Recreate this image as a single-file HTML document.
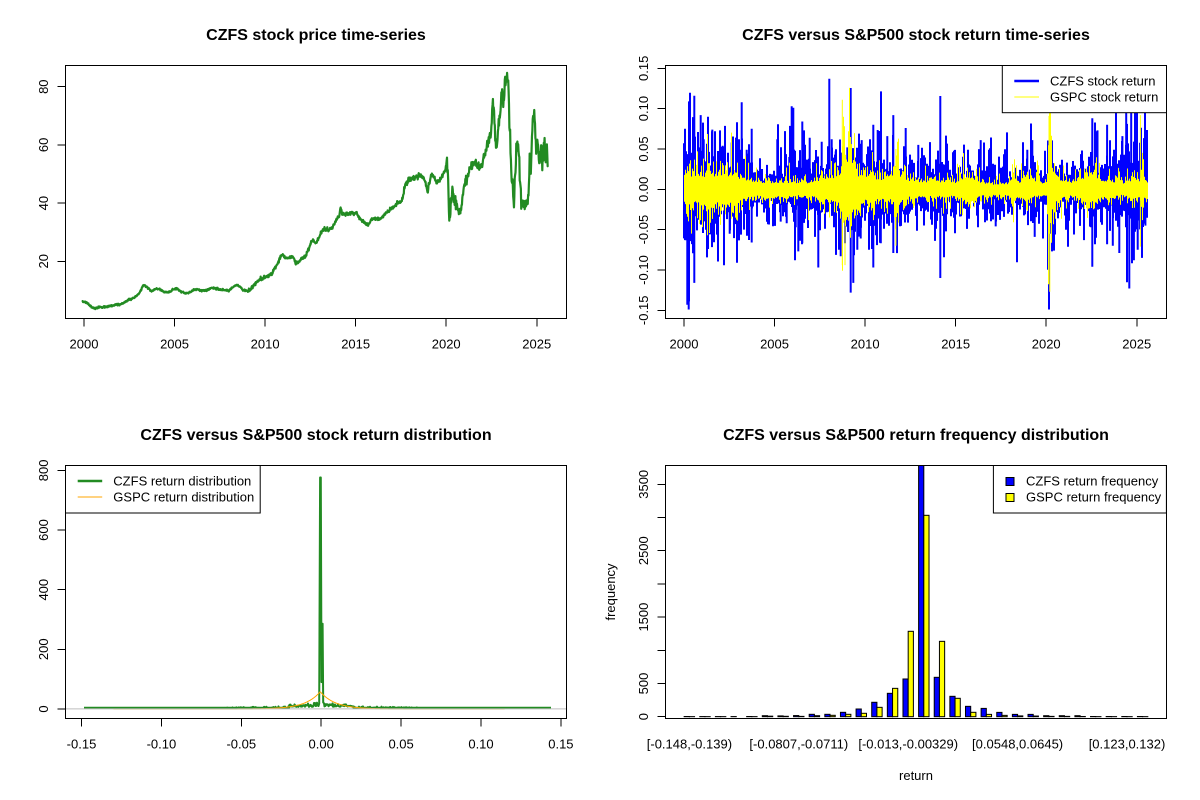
<!DOCTYPE html>
<html><head><meta charset="utf-8"><title>CZFS charts</title>
<style>html,body{margin:0;padding:0;background:#fff;overflow:hidden}svg{display:block}text{font-family:"Liberation Sans",Arial,sans-serif;fill:#000}</style>
</head><body>
<svg id="S" xmlns="http://www.w3.org/2000/svg" width="1200" height="800" viewBox="0 0 1200 800">
<defs>
<clipPath id="c1"><rect x="65.6" y="65.6" width="500.8" height="252.8"/></clipPath>
<clipPath id="c2"><rect x="665.6" y="65.6" width="500.8" height="252.8"/></clipPath>
<clipPath id="c3"><rect x="65.6" y="465.6" width="500.8" height="252.8"/></clipPath>
<clipPath id="c4"><rect x="665.6" y="465.6" width="500.8" height="252.8"/></clipPath>
</defs>
<rect width="1200" height="800" fill="#fff"/>
<g id="g1" clip-path="url(#c1)"></g>
<g id="g2" clip-path="url(#c2)"></g>
<g id="g3" clip-path="url(#c3)"></g>
<line x1="65.6" y1="708.9" x2="566.4" y2="708.9" stroke="#BEBEBE" stroke-width="1"/>
<g id="g4" clip-path="url(#c4)"></g>

<!-- Titles -->
<text x="316" y="40" text-anchor="middle" font-weight="bold" font-size="16">CZFS stock price time-series</text>
<text x="916" y="40" text-anchor="middle" font-weight="bold" font-size="16">CZFS versus S&amp;P500 stock return time-series</text>
<text x="316" y="440" text-anchor="middle" font-weight="bold" font-size="16">CZFS versus S&amp;P500 stock return distribution</text>
<text x="916" y="440" text-anchor="middle" font-weight="bold" font-size="16">CZFS versus S&amp;P500 return frequency distribution</text>

<g fill="none" stroke="#000" stroke-width="1" shape-rendering="crispEdges">
<rect x="65.5" y="65.5" width="501" height="253"/>
<rect x="665.5" y="65.5" width="501" height="253"/>
<rect x="65.5" y="465.5" width="501" height="253"/>
<rect x="665.5" y="465.5" width="501" height="253"/>
<path d="M84 318.5V326.5M174.55 318.5V326.5M265.1 318.5V326.5M355.65 318.5V326.5M446.2 318.5V326.5M536.75 318.5V326.5"/>
<path d="M65.5 261.3H57.5M65.5 203.1H57.5M65.5 144.9H57.5M65.5 86.7H57.5"/>
<path d="M684 318.5V326.5M774.55 318.5V326.5M865.1 318.5V326.5M955.65 318.5V326.5M1046.2 318.5V326.5M1136.75 318.5V326.5"/>
<path d="M665.5 68.3H657.5M665.5 108.6H657.5M665.5 149H657.5M665.5 189.3H657.5M665.5 229.6H657.5M665.5 270H657.5M665.5 310.3H657.5"/>
<path d="M81.5 718.5V726.5M161.4 718.5V726.5M241.3 718.5V726.5M321.2 718.5V726.5M401.1 718.5V726.5M481 718.5V726.5M560.9 718.5V726.5"/>
<path d="M65.5 709H57.5M65.5 649.3H57.5M65.5 589.7H57.5M65.5 530H57.5M65.5 470.4H57.5"/>
<path d="M665.5 716.7H657.5M665.5 683.5H657.5M665.5 650.3H657.5M665.5 617.1H657.5M665.5 583.9H657.5M665.5 550.7H657.5M665.5 517.5H657.5M665.5 484.3H657.5"/>
</g>

<g font-size="13" text-anchor="middle">
<text x="84" y="348.3">2000</text><text x="174.55" y="348.3">2005</text><text x="265.1" y="348.3">2010</text><text x="355.65" y="348.3">2015</text><text x="446.2" y="348.3">2020</text><text x="536.75" y="348.3">2025</text>
<text transform="translate(48,261.3) rotate(-90)">20</text>
<text transform="translate(48,203.1) rotate(-90)">40</text>
<text transform="translate(48,144.9) rotate(-90)">60</text>
<text transform="translate(48,86.7) rotate(-90)">80</text>
<text x="684" y="348.3">2000</text><text x="774.55" y="348.3">2005</text><text x="865.1" y="348.3">2010</text><text x="955.65" y="348.3">2015</text><text x="1046.2" y="348.3">2020</text><text x="1136.75" y="348.3">2025</text>
<text transform="translate(648,68.3) rotate(-90)">0.15</text>
<text transform="translate(648,108.6) rotate(-90)">0.10</text>
<text transform="translate(648,149) rotate(-90)">0.05</text>
<text transform="translate(648,189.3) rotate(-90)">0.00</text>
<text transform="translate(648,229.6) rotate(-90)">-0.05</text>
<text transform="translate(648,270) rotate(-90)">-0.10</text>
<text transform="translate(648,310.3) rotate(-90)">-0.15</text>
<text x="81.5" y="748.3">-0.15</text><text x="161.4" y="748.3">-0.10</text><text x="241.3" y="748.3">-0.05</text><text x="321.2" y="748.3">0.00</text><text x="401.1" y="748.3">0.05</text><text x="481" y="748.3">0.10</text><text x="560.9" y="748.3">0.15</text>
<text transform="translate(48,709) rotate(-90)">0</text>
<text transform="translate(48,649.3) rotate(-90)">200</text>
<text transform="translate(48,589.7) rotate(-90)">400</text>
<text transform="translate(48,530) rotate(-90)">600</text>
<text transform="translate(48,470.4) rotate(-90)">800</text>
<text transform="translate(648,716.7) rotate(-90)">0</text>
<text transform="translate(648,683.5) rotate(-90)">500</text>
<text transform="translate(648,617.1) rotate(-90)">1500</text>
<text transform="translate(648,550.7) rotate(-90)">2500</text>
<text transform="translate(648,484.3) rotate(-90)">3500</text>
<text x="689.4" y="748.3">[-0.148,-0.139)</text>
<text x="798.8" y="748.3">[-0.0807,-0.0711)</text>
<text x="908.2" y="748.3">[-0.013,-0.00329)</text>
<text x="1017.6" y="748.3">[0.0548,0.0645)</text>
<text x="1127" y="748.3">[0.123,0.132)</text>
<text x="916" y="780">return</text>
<text transform="translate(615,592) rotate(-90)">frequency</text>
</g>

<rect x="1002.3" y="65.5" width="164.2" height="47.2" fill="#fff" stroke="#000" stroke-width="1"/>
<line x1="1014.3" y1="81" x2="1039" y2="81" stroke="#0000FF" stroke-width="2.5"/>
<line x1="1014.3" y1="97" x2="1039" y2="97" stroke="#FFFF00" stroke-width="1"/>
<text x="1050" y="85.7" font-size="13">CZFS stock return</text>
<text x="1050" y="101.7" font-size="13">GSPC stock return</text>

<rect x="65.5" y="465.5" width="194.7" height="47.5" fill="#fff" stroke="#000" stroke-width="1"/>
<line x1="77.7" y1="481" x2="102.2" y2="481" stroke="#228B22" stroke-width="2.5"/>
<line x1="77.7" y1="497" x2="102.2" y2="497" stroke="#FFA500" stroke-width="1"/>
<text x="113.3" y="485.7" font-size="13">CZFS return distribution</text>
<text x="113.3" y="501.7" font-size="13">GSPC return distribution</text>

<rect x="993.4" y="465.5" width="173" height="47.5" fill="#fff" stroke="#000" stroke-width="1"/>
<rect x="1006" y="477.5" width="8" height="8" fill="#0000FF" stroke="#000" stroke-width="1"/>
<rect x="1006" y="493.5" width="8" height="8" fill="#FFFF00" stroke="#000" stroke-width="1"/>
<text x="1026" y="485.7" font-size="13">CZFS return frequency</text>
<text x="1026" y="501.7" font-size="13">GSPC return frequency</text>
</svg>
<script>
(function(){
var NS="http://www.w3.org/2000/svg";
function mk(p,t,a){var e=document.createElementNS(NS,t);for(var k in a)e.setAttribute(k,a[k]);document.getElementById(p).appendChild(e);return e;}
var s=987654321;
function R(){s^=s<<13;s^=s>>>17;s^=s<<5;return ((s>>>0)%1000000)/1000000;}
function G(){var u=R()+1e-6,v=R();return Math.sqrt(-2*Math.log(u))*Math.cos(6.2831853*v);}
function E(){return -Math.log(R()+1e-6);}
function I(a,x){if(x<=a[0][0])return a[0][1];for(var i=1;i<a.length;i++){if(x<=a[i][0]){var p=a[i-1],q=a[i];return p[1]+(q[1]-p[1])*(x-p[0])/(q[0]-p[0]);}}return a[a.length-1][1];}

/* Panel 1: price */
var A=[[216,755],[225,757],[232,764],[240,772],[248,776],[258,772],[270,771],[285,768],[300,765],[315,763],[325,758],[335,750],[345,746],[355,738],[362,733],[368,722],[374,706],[380,708],[388,715],[396,724],[404,718],[412,716],[420,720],[430,726],[442,727],[452,718],[462,716],[472,724],[485,730],[495,728],[505,720],[515,718],[528,722],[540,720],[552,714],[562,716],[572,718],[585,720],[598,722],[608,712],[618,705],[628,710],[635,720],[645,722],[655,718],[662,706],[672,695],[682,688],[692,683],[702,678],[712,668],[720,650],[726,640],[732,622],[738,612],[745,622],[755,622],[765,620],[772,638],[780,636],[790,625],[798,620],[806,598],[812,580],[818,570],[826,582],[834,560],[840,545],[848,538],[858,540],[866,535],[874,522],[880,508],[886,498],[890,470],[894,492],[902,492],[912,490],[922,488],[932,490],[938,503],[946,512],[955,520],[962,525],[968,512],[976,505],[986,507],[995,505],[1003,495],[1012,485],[1020,478],[1028,470],[1036,462],[1044,455],[1050,452],[1056,420],[1060,400],[1068,390],[1078,385],[1088,382],[1096,376],[1104,382],[1112,395],[1117,428],[1121,405],[1127,372],[1134,382],[1142,396],[1150,392],[1158,375],[1164,360],[1168,330],[1171,390],[1174,520],[1178,470],[1182,420],[1186,440],[1190,448],[1195,475],[1200,495],[1205,480],[1210,430],[1215,400],[1222,380],[1230,352],[1238,338],[1246,345],[1254,352],[1260,345],[1265,322],[1270,290],[1275,275],[1280,262],[1284,240],[1287,160],[1290,175],[1293,240],[1297,295],[1300,250],[1304,205],[1308,175],[1312,120],[1315,170],[1318,110],[1321,90],[1324,80],[1327,72],[1329,150],[1331,230],[1334,280],[1337,380],[1340,420],[1343,450],[1346,380],[1350,300],[1353,272],[1356,320],[1359,400],[1362,440],[1366,455],[1370,475],[1374,470],[1378,460],[1381,430],[1384,340],[1387,360],[1390,260],[1393,190],[1396,200],[1399,260],[1402,300],[1405,250],[1408,320],[1411,330],[1414,270],[1417,345],[1420,320],[1423,255],[1426,330],[1429,285],[1432,350]];
var d="",first=true;
for(var i=0;i<A.length-1;i++){
 var x0=A[i][0]/2.613,y0=50+A[i][1]/3,x1=A[i+1][0]/2.613,y1=50+A[i+1][1]/3;
 var n=Math.max(1,Math.round((x1-x0)/0.35));
 for(var j=0;j<n;j++){var t=j/n,x=x0+(x1-x0)*t,y=y0+(y1-y0)*t,yr=2000+(x-84)/18.11;
  var am=yr<2009?0.45:yr<2017.5?0.9:yr<2019.9?1.3:yr<2022.5?2.8:4.2;
  y+=G()*am;d+=(first?"M":"L")+x.toFixed(2)+" "+y.toFixed(2);first=false;}
}
mk("g1","path",{d:d,fill:"none",stroke:"#228B22","stroke-width":"2.2","stroke-linejoin":"round","stroke-linecap":"round"});

/* Panel 2: returns */
var EB=[[2000,0.048],[2001,0.046],[2002,0.04],[2003,0.038],[2003.6,0.028],[2004,0.022],[2005,0.021],[2005.5,0.03],[2007,0.034],[2008,0.036],[2008.8,0.044],[2009.5,0.044],[2010,0.037],[2011,0.037],[2012,0.032],[2013,0.028],[2014,0.028],[2015,0.026],[2016,0.026],[2017,0.025],[2018,0.023],[2019,0.023],[2019.5,0.026],[2020.1,0.028],[2020.25,0.055],[2020.6,0.036],[2021,0.026],[2022,0.026],[2022.5,0.034],[2023,0.036],[2024,0.038],[2024.3,0.05],[2025.6,0.048]];
var EG=[[2000,0.024],[2001,0.025],[2002,0.027],[2002.8,0.026],[2003.3,0.016],[2004,0.013],[2007,0.012],[2007.5,0.018],[2008,0.02],[2008.6,0.028],[2008.8,0.058],[2009.2,0.05],[2009.5,0.028],[2010,0.02],[2010.4,0.028],[2010.7,0.016],[2011.5,0.02],[2011.7,0.045],[2012,0.02],[2012.5,0.014],[2014,0.013],[2015,0.013],[2015.6,0.022],[2016,0.018],[2016.5,0.012],[2017,0.009],[2018,0.011],[2018.1,0.025],[2018.5,0.013],[2018.9,0.025],[2019.1,0.013],[2020,0.012],[2020.15,0.075],[2020.35,0.035],[2020.6,0.02],[2021,0.015],[2021.5,0.011],[2022,0.02],[2022.5,0.025],[2023,0.016],[2024,0.011],[2025.2,0.015],[2025.28,0.06],[2025.4,0.016],[2025.6,0.013]];
function yR(v){return (189.3-v*806.7).toFixed(1);}
var db="",dy="";
for(var x=684;x<=1147.6;x+=1){
 var yr=2000+(x-684)/18.11,eb=I(EB,yr),eg=I(EG,yr);
 var hb=eb*(0.45+0.55*E()),lb=eb*(0.45+0.55*E());
 db+="M"+x+" "+yR(hb)+"V"+yR(-lb);
 var hg=eg*(0.6+0.4*E()),lg=eg*(0.6+0.4*E());
 dy+="M"+(x+0.5)+" "+yR(hg)+"V"+yR(-lg);
}
var BS=[[685,0.075],[685,-0.063],[687.3,-0.143],[688.7,-0.149],[689,0.109],[694.3,0.116],[694.3,-0.116],[698,0.054],[700.7,0.092],[703.7,0.062],[708,0.083],[708,-0.074],[712.3,0.074],[715,0.072],[720,0.073],[722.7,0.054],[729.7,-0.055],[731.7,0.058],[737,-0.091],[737,0.083],[741.7,0.108],[744,-0.05],[746.7,0.049],[751.7,-0.066],[751.7,0.075],[777.3,0.062],[780.7,-0.04],[786.7,-0.042],[789.3,0.04],[791.7,0.103],[793.3,0.101],[795.7,-0.047],[798.3,-0.077],[802.3,0.084],[802.3,-0.067],[804,0.073],[809.7,0.064],[815,-0.059],[818.3,-0.097],[821.7,0.059],[829.3,0.137],[831.7,0.062],[835.7,0.047],[839,-0.075],[840.7,-0.083],[847.3,0.052],[850.7,0.1256],[850.7,-0.128],[853.3,-0.116],[857.3,-0.075],[859,0.069],[860.7,-0.061],[861.7,0.061],[870,0.062],[873.3,0.08],[873.3,-0.097],[877.7,0.0735],[880.8,-0.067],[880.8,0.072],[887.3,0.066],[893.3,0.092],[893.3,-0.079],[905.7,0.076],[910,0.043],[918.3,0.055],[935,-0.064],[940.3,0.1157],[940.3,-0.11],[968,0.049],[980.7,0.061],[984,0.058],[989,0.049],[995.7,-0.046],[1027.3,0.049],[1032.3,0.061],[1034.7,-0.059],[1049,-0.149],[1052,-0.077],[1054,-0.076],[1084,-0.063],[1092.3,0.088],[1092.3,-0.096],[1095.7,0.072],[1097.5,0.073],[1107.1,0.08],[1107.1,-0.068],[1112.8,-0.07],[1119.3,-0.079],[1122.4,0.066],[1126.2,0.12],[1129.3,-0.123],[1131.2,0.13],[1133.9,-0.088],[1135,0.11],[1137.7,-0.075],[1142.7,0.045],[1145.4,0.057],[1145.4,-0.045]];
for(var k=0;k<BS.length;k++){db+="M"+BS[k][0]+" 189.3V"+yR(BS[k][1]);}
var YS=[[842.3,0.111],[843.5,0.09],[842.3,-0.094],[845,-0.094],[1049,0.091],[1049.8,-0.127],[1050.5,0.07],[1140.4,0.092],[1140.4,-0.071],[895.9,-0.07],[895.9,0.05]];
for(var k=0;k<YS.length;k++){dy+="M"+YS[k][0]+" 189.3V"+yR(YS[k][1]);}
mk("g2","path",{d:db,fill:"none",stroke:"#0000FF","stroke-width":"2"});
mk("g2","path",{d:dy,fill:"none",stroke:"#FFFF00","stroke-width":"1"});

/* Panel 3: density */
function gv(v){var a=Math.abs(v);
 if(a<0.02){return 7+R()*11*(1-a/0.03)+(R()<0.1?6:0);}
 if(a<0.06){return 4+(R()<0.35?R()*6*(0.07-a)/0.05:0);}
 return 4;}
var P=[];
for(var x=84;x<=551.4;x+=0.5){if(x>318.6&&x<323.6)continue;var v=(x-321.2)/1598;P.push([x,gv(v)]);}
P.push([319.2,18],[320.1,776],[320.8,776],[321.5,90],[322.2,286],[322.6,286],[323.2,22]);
P.sort(function(a,b){return a[0]-b[0];});
var dg="";for(var k=0;k<P.length;k++){dg+=(k?"L":"M")+P[k][0].toFixed(2)+" "+(709-P[k][1]*0.2983).toFixed(2);}
mk("g3","path",{d:dg,fill:"none",stroke:"#228B22","stroke-width":"2","stroke-linejoin":"round"});
var doo="";first=true;
for(var v=-0.13;v<=0.115;v+=0.0003){var val=58*Math.exp(-Math.abs(v+0.0006)/0.0093);var x=321.2+v*1598;doo+=(first?"M":"L")+x.toFixed(2)+" "+(709-val*0.2983).toFixed(2);first=false;}
mk("g3","path",{d:doo,fill:"none",stroke:"#FFA500","stroke-width":"1"});

/* Panel 4: bars */
var B=[3,2,2,2,3,15,12,17,36,36,66,116,217,352,568,3900,593,307,156,125,65,35,35,15,15,15,3,3,3,3];
var Y=[1,1,1,0,1,8,6,5,15,21,36,51,141,427,1286,3033,1135,277,66,35,20,12,10,5,5,3,1,1,1,1];
for(var i=0;i<30;i++){
 var xl=668.52+15.63*(i+1);
 var hb=B[i]*0.0664,hy=Y[i]*0.0664;
 mk("g4","rect",{x:xl.toFixed(2),y:(716.7-hb).toFixed(2),width:"5.21",height:hb.toFixed(2),fill:"#0000FF",stroke:"#000","stroke-width":"1"});
 mk("g4","rect",{x:(xl+5.21).toFixed(2),y:(716.7-hy).toFixed(2),width:"5.21",height:hy.toFixed(2),fill:"#FFFF00",stroke:"#000","stroke-width":"1"});
}
})();
</script>
</body></html>
